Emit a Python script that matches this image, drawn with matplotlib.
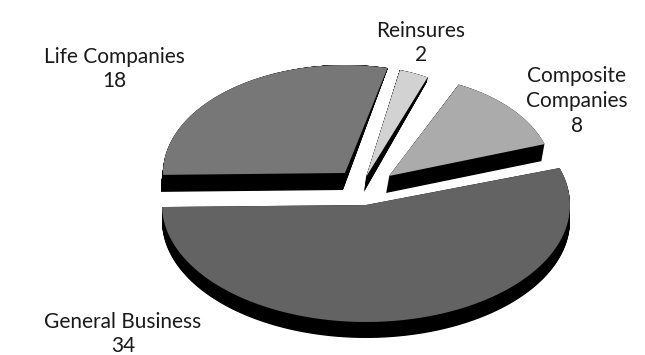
import numpy as np
import matplotlib
matplotlib.use("Agg")
import matplotlib.pyplot as plt

# company counts by type
names = ["General Business", "Composite\nCompanies", "Reinsures", "Life Companies"]
counts = [34, 8, 2, 18]

top_colors = ["#636363", "#ababab", "#d2d2d2", "#777777"]
# apex and radii of each slice, the pulled out ones look smaller
apex = [(366, 205), (389, 176), (366, 177), (345, 173)]
radii = [(204, 117), (164, 101), (145, 110), (182, 108)]
sides = [(0, 16), (-3, 17), (-2, 15), (-2, 17)]
label_pos = [(123, 334), (577, 101), (421, 43), (114, 69)]

W, H = 645, 355
plt.rcParams["font.family"] = ["Lato", "DejaVu Sans"]

fig = plt.figure(figsize=(W / 100, H / 100), dpi=100)
ax = fig.add_axes([0, 0, 1, 1])
ax.set_xlim(0, W)
ax.set_ylim(H, 0)
ax.axis("off")


def wedge_xy(a0, a1, center, r, side, s=0.0):
    t = np.radians(np.linspace(a0, a1, 160))
    # rim sinks less towards the back of the pie
    f = np.clip(3 * (1 - np.sin(t)), 0, 1) * s
    xs = center[0] + r[0] * np.cos(t) + side[0] * f
    ys = center[1] - r[1] * np.sin(t) + side[1] * f
    return np.r_[center[0] + side[0] * s, xs], np.r_[center[1] + side[1] * s, ys]


angle = 181.0
total = sum(counts)
spans = []
for n in counts:
    spans.append((angle, angle + 360.0 * n / total))
    angle += 360.0 * n / total

# black sides first, then the top faces
for span, c, r, sd in zip(spans, apex, radii, sides):
    for s in np.linspace(0, 1, 25):
        x, y = wedge_xy(span[0], span[1], c, r, sd, s)
        ax.fill(x, y, color="black", lw=0)

for span, c, r, sd, col in zip(spans, apex, radii, sides, top_colors):
    x, y = wedge_xy(span[0], span[1], c, r, sd)
    ax.fill(x, y, color=col, lw=0)

for name, n, pos in zip(names, counts, label_pos):
    ax.text(pos[0], pos[1], "%s\n%d" % (name, n), ha="center", va="center",
            fontsize=15, linespacing=1.3, color="#1a1a1a")

fig.savefig("out.png", dpi=100, facecolor="white")
